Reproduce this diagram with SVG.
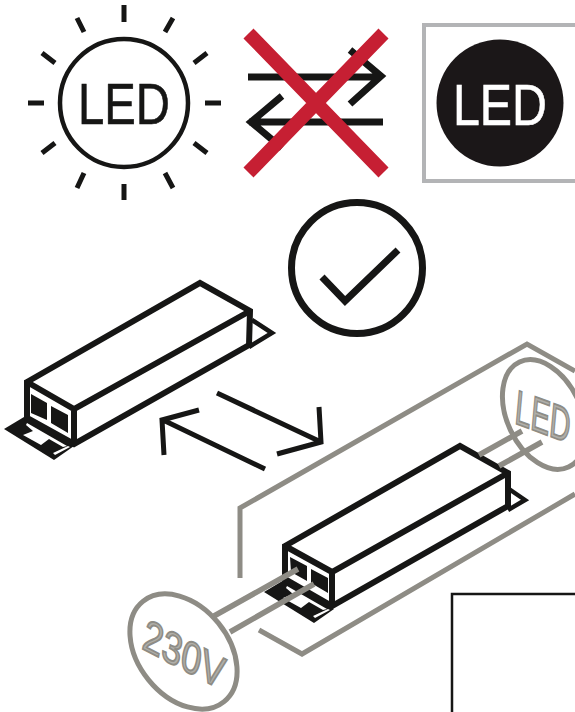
<svg xmlns="http://www.w3.org/2000/svg" width="575" height="712" viewBox="0 0 575 712">
<style>
.k{fill:none;stroke:#161615;stroke-linecap:butt;stroke-linejoin:miter}
.g{fill:none;stroke:#8e8c85;stroke-width:5}
.w{fill:#fff;stroke:#161615;stroke-width:6;stroke-linejoin:miter}
.f{fill:#161615}
.t{font-family:"Liberation Sans",Arial,sans-serif}
.gt{fill:#b0afa9;stroke:#8e8c85;stroke-width:1.800}
</style>
<defs>
<g id="flange">
<path class="f" d="M4 429L24 417L74 446L54 460Z"/>
<path fill="#fff" d="M27 423L67 446L63 447L49 439L41 445L23 435L33 431L26 425ZM53 453L68 446L70 447L55 455Z"/>
</g>
</defs>
<rect width="575" height="712" fill="#fff"/>
<g id="sun">
<circle cx="124" cy="103" r="64" class="k" stroke-width="4.500"/>
<text x="78" y="124" class="t" font-size="57" fill="#161615" stroke="#161615" stroke-width=".6" textLength="92" lengthAdjust="spacingAndGlyphs">LED</text>
<path class="k" stroke-width="5" d="M124 5V22M124 184V200M28 103H44M205 103H221M77 18L84 32M173 18L165 32M42 53L55 63M207 53L194 63M42 153L55 143M207 153L194 143M77 188L84 173M173 188L165 173"/>
</g>
<g id="no-swap">
<path class="k" stroke-width="7" d="M248 77H378M350 50L381 76L350 104M383 122H249M282 96L251 122L282 148"/>
<path fill="none" stroke="#c61f33" stroke-width="14" d="M248.500 33.500L383.500 172.500M383.500 33.500L248.500 172.500"/>
</g>
<g id="led-badge">
<rect x="424" y="25" width="160" height="156" fill="#fff" stroke="#b3b4b6" stroke-width="4"/>
<circle cx="500" cy="103" r="63.500" fill="#1b1718"/>
<text x="453" y="125" class="t" font-size="58" fill="#fff" stroke="#fff" stroke-width=".6" textLength="94" lengthAdjust="spacingAndGlyphs">LED</text>
</g>
<g id="check">
<circle cx="357" cy="268" r="65.500" class="k" stroke-width="7"/>
<path class="k" stroke-width="7" d="M322 277L345 301L398 250"/>
</g>
<g id="driver-left">
<use href="#flange"/>
<path class="w" d="M27 382L200 283L250 311L249 345L74 444L27 418Z"/>
<path class="k" stroke-width="6" d="M27 382L74 409L250 311M74 409V444"/>
<path class="k" stroke-width="4.500" d="M252 320L272 333L249 347"/>
<path class="f" d="M31 394L47 403V420L31 413ZM51 406L68 415V433L51 423Z"/>
</g>
<g id="swap-arrows">
<path class="k" stroke-width="5" d="M217 393L321 442M319 407L321 442L277 454M265 469L163 420M164 455L162 420L199 410"/>
</g>
<g id="frame">
<path class="g" d="M240 578V508L527 344L575 371M259 630L302 654L575 494"/>
</g>
<g id="driver-right">
<use href="#flange" x="260" y="163"/>
<path class="w" d="M285 546L460 446L508 473V506L332 606L285 579Z"/>
<path class="k" stroke-width="6" d="M285 546L332 572L508 473M332 572V606"/>
<path class="k" stroke-width="4.500" d="M509 489L525 500L508 510"/>
<path class="f" d="M290 557L307 566V581L291 572ZM311 569L328 578V593L311 583Z"/>
</g>
<g id="wires">
<path fill="none" stroke="#8e8c85" stroke-width="5.500" d="M214 616L298 569M230 632L314 584M479 455L522 431M499 466L542 442"/>
</g>
<g id="label-led">
<ellipse cx="544" cy="414.500" rx="58" ry="37" transform="rotate(65 544 414.500)" class="g"/>
<text transform="matrix(1 .37 -.09 1 514 423)" class="t gt" font-size="48" textLength="55" lengthAdjust="spacingAndGlyphs">LED</text>
</g>
<g id="label-230v">
<ellipse cx="183.500" cy="651.500" rx="64.500" ry="45" transform="rotate(51 183.500 651.500)" class="g"/>
<text transform="matrix(1 .52 -.2 1 141 648)" class="t gt" font-size="43" textLength="80" lengthAdjust="spacingAndGlyphs">230V</text>
</g>
<g id="corner-box">
<path fill="none" stroke="#161615" stroke-width="2.500" d="M452 712V594H575"/>
</g>
</svg>
